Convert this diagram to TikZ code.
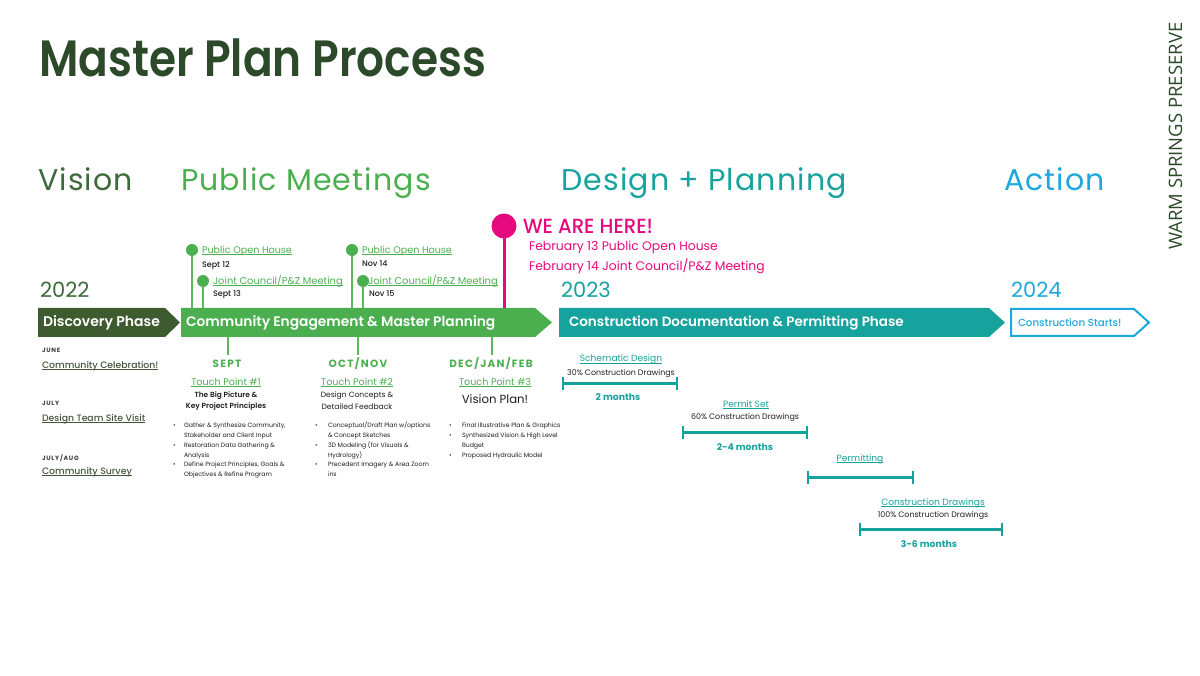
\documentclass[tikz,border=0pt]{standalone}
\usepackage{fontspec}
\usepackage{graphicx}
\setmainfont{Poppins}
\newfontfamily\pmed{Poppins Medium}
\newfontfamily\psemi{Poppins SemiBold}
\newfontfamily\osans{Open Sans}
\usetikzlibrary{arrows.meta}
\definecolor{dkgreen}{HTML}{2C4A2A}
\definecolor{olivec}{HTML}{3E5B2F}
\definecolor{vgreen}{HTML}{3D6A3A}
\definecolor{mgreen}{HTML}{4CAF4F}
\definecolor{lgreen}{HTML}{5DB85B}
\definecolor{tealc}{HTML}{17A39D}
\definecolor{cyanb}{HTML}{1CA8DD}
\definecolor{pinkc}{HTML}{E6097E}
\definecolor{txt}{HTML}{1E1E1E}
\definecolor{lblgreen}{HTML}{44573C}
\newcommand\ulx[1]{\setbox0=\hbox{#1}\rlap{\rule[-0.16em]{\wd0}{0.07em}}\box0}
\newcommand\fs[1]{\fontsize{#1}{#1}\selectfont}
\begin{document}
\begin{tikzpicture}[x=1pt,y=-1pt,
  every node/.style={inner sep=0pt, outer sep=0pt},
  hdr/.style={anchor=base west, font=\fs{30}\addfontfeatures{LetterSpace=4}},
  year/.style={anchor=base west, font=\fs{21}},
  phase/.style={anchor=west, text=white, font=\psemi\fs{14}},
  pindot/.style={circle, fill=mgreen, minimum size=12pt},
  pinline/.style={draw=lgreen, line width=1.6pt},
  mlabel/.style={anchor=base west, text=mgreen, font=\fs{9.6}},
  mdate/.style={anchor=base west, text=txt, font=\pmed\fs{8}},
  month/.style={anchor=base, text=mgreen, font=\bfseries\fs{10.5}\addfontfeatures{LetterSpace=12}},
  tpl/.style={anchor=base, text=mgreen, font=\fs{9.6}},
  tpsub/.style={anchor=base, text=txt, font=\fs{7.6}},
  bul/.style={anchor=base west, text=txt, font=\fs{6.2}},
  lcap/.style={anchor=base west, text=txt!85, font=\bfseries\fs{6.2}\addfontfeatures{LetterSpace=12}},
  llab/.style={anchor=base west, text=lblgreen, font=\pmed\fs{9.3}},
  dtitle/.style={anchor=base, text=tealc, font=\fs{9.1}},
  dsub/.style={anchor=base, text=txt, font=\fs{7.9}},
  dur/.style={anchor=base, text=tealc, font=\bfseries\fs{9.3}},
  rbar/.style={draw=tealc, line width=3pt},
  rtick/.style={draw=tealc, line width=2.6pt}
]
\useasboundingbox[fill=white] (0,0) rectangle (1200,676);

% title
\node[anchor=base west, text=dkgreen, font=\psemi\fs{51}] (title) at (39,77) {\scalebox{0.86}[1]{Master Plan Process}};
\node[rotate=90, anchor=base west, text=dkgreen, font=\osans\fs{18.5}] (wsp) at (1182,250) {WARM SPRINGS PRESERVE};

% headers
\node[hdr, text=vgreen] (hv) at (38,191) {Vision};
\node[hdr, text=mgreen] (hp) at (181,191) {Public Meetings};
\node[hdr, text=tealc] (hd) at (561,191) {Design + Planning};
\node[hdr, text=cyanb] (ha) at (1004,191) {Action};

% years
\node[year, text=vgreen] (y22) at (40,298) {2022};
\node[year, text=tealc] (y23) at (561,298) {2023};
\node[year, text=cyanb] (y24) at (1011,298) {2024};

% phase bars
\fill[olivec] (38,308) -- (165,308) -- (180,322.5) -- (165,337) -- (38,337) -- cycle;
\fill[mgreen] (181,308) -- (535,308) -- (552,322.5) -- (535,337) -- (181,337) -- cycle;
\fill[tealc] (559,308) -- (989,308) -- (1005,322.5) -- (989,337) -- (559,337) -- cycle;
\draw[cyanb, line width=2pt, fill=white] (1011,309) -- (1134,309) -- (1149,322.5) -- (1134,336) -- (1011,336) -- cycle;
\node[phase] (ph1) at (43,323) {Discovery Phase};
\node[phase, font=\psemi\fs{13.8}] (ph2) at (186,323) {Community Engagement \& Master Planning};
\node[phase, font=\psemi\fs{13.5}] (ph3) at (569,323) {Construction Documentation \& Permitting Phase};
\node[phase, text=cyanb, font=\pmed\fs{10.3}] (ph4) at (1018,322.5) {Construction Starts!};

% top pins
\coordinate (t1) at (192,308);
\coordinate (t2) at (203,308);
\coordinate (t3) at (352,308);
\coordinate (t4) at (363,308);
\coordinate (t5) at (504,308);
\node[pindot] (p1) at (192,250) {};
\node[pindot] (p2) at (203,281) {};
\node[pindot] (p3) at (352,250) {};
\node[pindot] (p4) at (363,281) {};
\draw[pinline] (p1) -- (t1);
\draw[pinline] (p2) -- (t2);
\draw[pinline] (p3) -- (t3);
\draw[pinline] (p4) -- (t4);
\node[mlabel] (m1) at (202,253.5) {\ulx{Public Open House}};
\node[mdate] (d1) at (202,268) {Sept 12};
\node[mlabel, font=\fs{9.9}] (m2) at (213,284.5) {\ulx{Joint Council/P\&Z Meeting}};
\node[mdate] (d2) at (213,296.5) {Sept 13};
\node[mlabel] (m3) at (362,253.5) {\ulx{Public Open House}};
\node[mdate] (d3) at (362,267) {Nov 14};
\node[mlabel, font=\fs{9.9}] (m4) at (368,284.5) {\ulx{Joint Council/P\&Z Meeting}};
\node[mdate] (d4) at (369,296.5) {Nov 15};

% we are here
\node[circle, fill=pinkc, minimum size=25pt] (pp) at (504,226) {};
\draw[draw=pinkc, line width=3pt] (pp) -- (t5);
\node[anchor=base west, text=pinkc, font=\pmed\fs{20.5}] (weh) at (523,234) {\scalebox{0.96}[1]{WE ARE HERE!}};
\node[anchor=base west, text=pinkc, font=\fs{12.4}] (f13) at (529,250.5) {February 13 Public Open House};
\node[anchor=base west, text=pinkc, font=\fs{12.4}] (f14) at (529,270.5) {February 14 Joint Council/P\&Z Meeting};

% lower ticks from community bar
\coordinate (b1) at (228,337);
\coordinate (b2) at (358,337);
\coordinate (b3) at (492,337);
\coordinate (e1) at (228,355);
\coordinate (e2) at (358,355);
\coordinate (e3) at (492,355);
\draw[pinline] (b1) -- (e1);
\draw[pinline] (b2) -- (e2);
\draw[pinline] (b3) -- (e3);

\node[month] (mo1) at (227,368) {SEPT};
\node[month] (mo2) at (358,368) {OCT/NOV};
\node[month] (mo3) at (491,368) {DEC/JAN/FEB};

\node[tpl] (tp1) at (226,385.5) {\ulx{Touch Point \#1}};
\node[tpl] (tp2) at (357,385.5) {\ulx{Touch Point \#2}};
\node[tpl] (tp3) at (495,385.5) {\ulx{Touch Point \#3}};

\node[tpsub, font=\psemi\fs{7.4}] (s11) at (226,397) {The Big Picture \&};
\node[tpsub, font=\psemi\fs{7.4}] (s12) at (226,409) {Key Project Principles};
\node[tpsub] (s21) at (357,397) {Design Concepts \&};
\node[tpsub] (s22) at (357,409.5) {Detailed Feedback};
\node[tpsub, font=\fs{11.7}] (s31) at (495,403) {Vision Plan!};

% bullets TP1
\node[bul] (k11) at (173,427.5) {\textbullet};
\node[bul] (k12) at (173,447.5) {\textbullet};
\node[bul] (k13) at (173,466.5) {\textbullet};
\node[bul] (a1) at (184,427.5) {Gather \& Synthesize Community,};
\node[bul] (a2) at (184,437.5) {Stakeholder and Client Input};
\node[bul] (a3) at (184,447.5) {Restoration Data Gathering \&};
\node[bul] (a4) at (184,457.5) {Analysis};
\node[bul] (a5) at (184,466.5) {Define Project Principles, Goals \&};
\node[bul] (a6) at (184,476.5) {Objectives \& Refine Program};
% bullets TP2
\node[bul] (k21) at (315,427.5) {\textbullet};
\node[bul] (k22) at (315,447.5) {\textbullet};
\node[bul] (k23) at (315,466.5) {\textbullet};
\node[bul] (c1) at (328,427.5) {Conceptual/Draft Plan w/options};
\node[bul] (c2) at (328,437.5) {\& Concept Sketches};
\node[bul] (c3) at (328,447.5) {3D Modeling (for Visuals \&};
\node[bul] (c4) at (328,457.5) {Hydrology)};
\node[bul] (c5) at (328,466.5) {Precedent Imagery \& Area Zoom};
\node[bul] (c6) at (328,476.5) {ins};
% bullets TP3
\node[bul] (k31) at (449,427.5) {\textbullet};
\node[bul] (k32) at (449,437.5) {\textbullet};
\node[bul] (k33) at (449,457.5) {\textbullet};
\node[bul] (v1) at (462,427.5) {Final Illustrative Plan \& Graphics};
\node[bul] (v2) at (462,437.5) {Synthesized Vision \& High Level};
\node[bul] (v3) at (462,447.5) {Budget};
\node[bul] (v4) at (462,457.5) {Proposed Hydraulic Model};

% left column
\node[lcap] (j1) at (42,352.5) {JUNE};
\node[llab] (l1) at (42,368.5) {\ulx{Community Celebration!}};
\node[lcap] (j2) at (42,405.5) {JULY};
\node[llab] (l2) at (42,421.5) {\ulx{Design Team Site Visit}};
\node[lcap] (j3) at (42,460.5) {JULY/AUG};
\node[llab] (l3) at (42,474.5) {\ulx{Community Survey}};

% design + planning ranges
\node[dtitle] (sd) at (621,362) {\ulx{Schematic Design}};
\node[dsub] (sd2) at (621,375) {30\% Construction Drawings};
\coordinate (sa) at (563,384); \coordinate (sb) at (677,384);
\draw[rbar] (sa) -- (sb);
\draw[rtick] ([yshift=-6.5pt]sa) -- ([yshift=6.5pt]sa);
\draw[rtick] ([yshift=-6.5pt]sb) -- ([yshift=6.5pt]sb);
\node[dur] (sd3) at (618,400.5) {2 months};

\node[dtitle] (ps) at (746,407) {\ulx{Permit Set}};
\node[dsub] (ps2) at (745,420) {60\% Construction Drawings};
\coordinate (pa) at (683,432); \coordinate (pb) at (807,432);
\draw[rbar] (pa) -- (pb);
\draw[rtick] ([yshift=-6.5pt]pa) -- ([yshift=6.5pt]pa);
\draw[rtick] ([yshift=-6.5pt]pb) -- ([yshift=6.5pt]pb);
\node[dur] (ps3) at (745,450.5) {2-4 months};

\node[dtitle] (pm) at (860,461) {\ulx{Permitting}};
\coordinate (ma) at (808,477); \coordinate (mb) at (913,477);
\draw[rbar] (ma) -- (mb);
\draw[rtick] ([yshift=-6.5pt]ma) -- ([yshift=6.5pt]ma);
\draw[rtick] ([yshift=-6.5pt]mb) -- ([yshift=6.5pt]mb);

\node[dtitle] (cd) at (933,505) {\ulx{Construction Drawings}};
\node[dsub] (cd2) at (933,517) {100\% Construction Drawings};
\coordinate (ca) at (860,529); \coordinate (cb) at (1002,529);
\draw[rbar] (ca) -- (cb);
\draw[rtick] ([yshift=-6.5pt]ca) -- ([yshift=6.5pt]ca);
\draw[rtick] ([yshift=-6.5pt]cb) -- ([yshift=6.5pt]cb);
\node[dur] (cd3) at (929,547.5) {3-6 months};
\end{tikzpicture}
\end{document}
